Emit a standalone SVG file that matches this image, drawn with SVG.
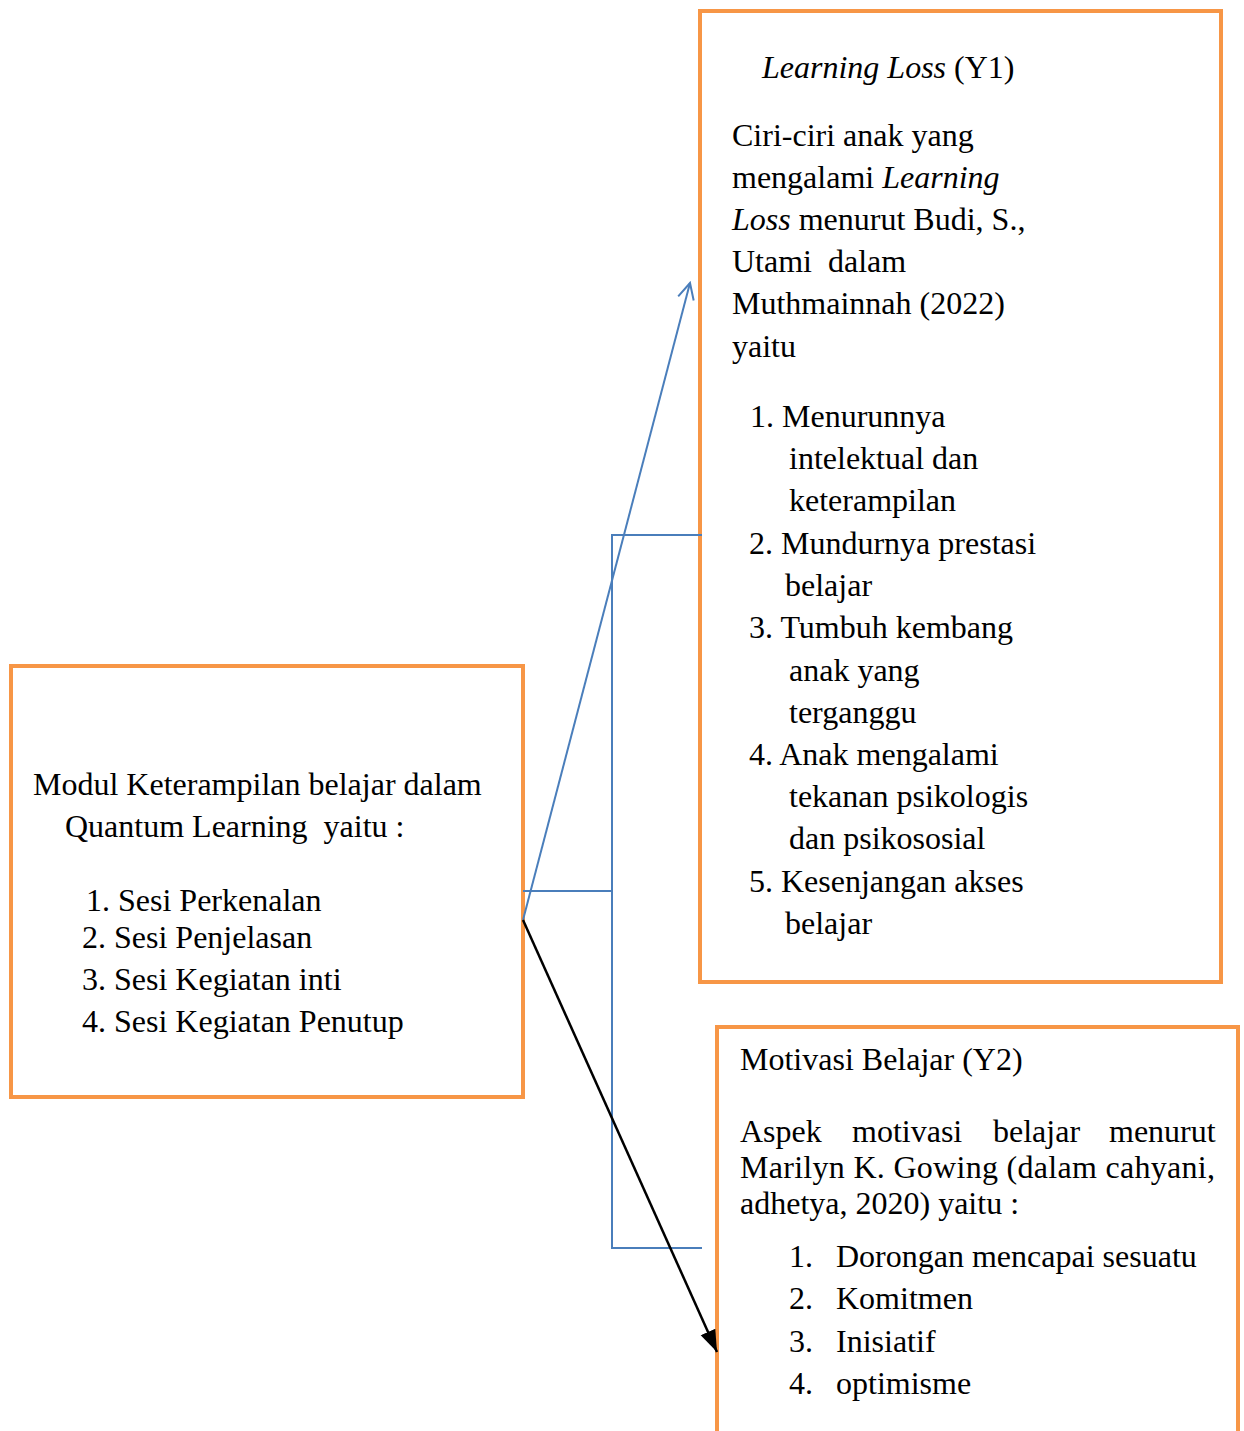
<svg xmlns="http://www.w3.org/2000/svg" width="1244" height="1431" viewBox="0 0 1244 1431">
<style>
.box{fill:#fff;stroke:#F79646;stroke-width:4}
text{font-family:"Liberation Serif","Times New Roman",serif;font-size:32px;fill:#000}
.i{font-style:italic}
.blue{stroke:#4A7EBB;stroke-width:2;fill:none}
</style>
<defs>
<marker id="open" markerWidth="20" markerHeight="20" refX="18" refY="10" orient="auto" markerUnits="userSpaceOnUse">
<path d="M2,2 L18,10 L2,18" fill="none" stroke="#4A7EBB" stroke-width="2"/>
</marker>
<marker id="fill" markerWidth="24" markerHeight="20" refX="22" refY="10" orient="auto" markerUnits="userSpaceOnUse">
<path d="M0,2 L22,10 L0,18 Z" fill="#000"/>
</marker>
</defs>
<g id="node-modul">
<rect class="box" x="11" y="666" width="512" height="431"/>
<text x="33" y="795">Modul Keterampilan belajar dalam</text>
<text x="65" y="837" xml:space="preserve">Quantum Learning  yaitu :</text>
<text x="86" y="911">1. Sesi Perkenalan</text>
<text x="82" y="948">2. Sesi Penjelasan</text>
<text x="82" y="990">3. Sesi Kegiatan inti</text>
<text x="82" y="1032">4. Sesi Kegiatan Penutup</text>
</g>
<g id="node-y1">
<rect class="box" x="700" y="11" width="521" height="971"/>
<text x="762" y="78"><tspan class="i">Learning Loss</tspan> (Y1)</text>
<text x="732" y="146">Ciri-ciri anak yang</text>
<text x="732" y="188">mengalami <tspan class="i">Learning</tspan></text>
<text x="732" y="230"><tspan class="i">Loss</tspan> menurut Budi, S.,</text>
<text x="732" y="272" xml:space="preserve">Utami  dalam</text>
<text x="732" y="314">Muthmainnah (2022)</text>
<text x="732" y="357">yaitu</text>
<text x="750" y="427">1. Menurunnya</text>
<text x="789" y="469">intelektual dan</text>
<text x="789" y="511">keterampilan</text>
<text x="749" y="554">2. Mundurnya prestasi</text>
<text x="785" y="596">belajar</text>
<text x="749" y="638">3. Tumbuh kembang</text>
<text x="789" y="681">anak yang</text>
<text x="789" y="723">terganggu</text>
<text x="749" y="765">4. Anak mengalami</text>
<text x="789" y="807">tekanan psikologis</text>
<text x="789" y="849">dan psikososial</text>
<text x="749" y="892">5. Kesenjangan akses</text>
<text x="785" y="934">belajar</text>
</g>
<g id="node-y2">
<rect class="box" x="717" y="1027" width="521" height="420"/>
<text x="740" y="1070">Motivasi Belajar (Y2)</text>
<text y="1142"><tspan x="740">Aspek</tspan><tspan x="852">motivasi</tspan><tspan x="993">belajar</tspan><tspan x="1109">menurut</tspan></text>
<text x="740" y="1178" textLength="475" lengthAdjust="spacing">Marilyn K. Gowing (dalam cahyani,</text>
<text x="740" y="1214">adhetya, 2020) yaitu :</text>
<text x="789" y="1267">1.</text><text x="836" y="1267">Dorongan mencapai sesuatu</text>
<text x="789" y="1309">2.</text><text x="836" y="1309">Komitmen</text>
<text x="789" y="1352">3.</text><text x="836" y="1352">Inisiatif</text>
<text x="789" y="1394">4.</text><text x="836" y="1394">optimisme</text>
</g>
<g id="connectors">
<path class="blue" d="M523,891 H612 M702,535 H612 V1248 H702"/>
<line class="blue" x1="523" y1="920" x2="690" y2="283" marker-end="url(#open)"/>
<line x1="523" y1="920" x2="717" y2="1352" stroke="#000" stroke-width="2.5" marker-end="url(#fill)"/>
</g>
</svg>
